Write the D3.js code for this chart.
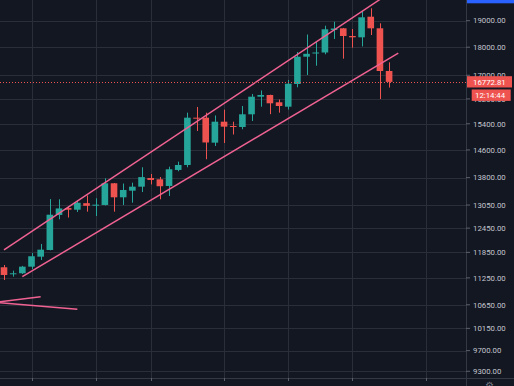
<!DOCTYPE html>
<html>
<head>
<meta charset="utf-8">
<script src="https://d3js.org/d3.v7.min.js"></script>
<style>
body{margin:0;background:#131722;}
svg{display:block;font-family:Roboto,sans-serif;}
</style>
</head>
<body>
<script>
const width = 514;
const height = 386;
const plotW = 466;
const plotH = 378;

// daily candles
const open  = [11496,11340,11356,11510,11747,11908,12789,12970,12927,13100,13044,13052,13642,13258,13438,13548,13790,13753,13567,14017,14160,15593,15593,14819,15466,15331,15300,15701,16274,16331,16090,15946,16701,17656,17779,17808,18643,18708,18417,18368,19155,18708,17149];
const high  = [11550,11417,11527,11836,12055,13210,13204,13007,13167,13307,13231,13781,13650,13635,13659,14094,13903,13818,14111,14256,15753,15937,15753,15663,15850,15466,15969,16364,16482,16340,16181,16838,17827,18473,18230,18807,18961,18720,18680,19379,19486,18900,17456];
const low   = [11202,11278,11340,11456,11668,11900,12677,12722,12867,12875,12762,13040,12875,13052,13113,13400,13610,13204,13293,13980,14094,15176,14326,14719,14808,15068,15229,15488,15946,15704,15753,15855,16589,17010,17335,17743,18305,17585,17983,18030,18454,16198,16580];
const close = [11317,11356,11510,11757,11916,12796,12960,12927,13110,13030,13060,13642,13258,13457,13548,13815,13734,13560,14037,14160,15593,15561,14825,15466,15310,15300,15701,16274,16331,16057,15969,16710,17656,17760,17808,18670,18700,18417,18368,19132,18708,17149,16772.81];

const priceTicks = [19000,18000,17000,16200,15400,14600,13800,13050,12450,11850,11250,10650,10150,9700,9300];
const timeTicks = [3,10,16,24,31,38,46];   // candle index of vertical grid lines

const lastPrice = 16772.81;
const countdown = '12:14:44';

// drawn lines, as [candle index, price]
const upperLine = [[0,11908],[41,19840]];
const lowerLine = [[2,11278],[43,17788]];
const arrowA = [[-1,10704],[4,10828]];
const arrowB = [[-1,10704],[8,10553]];

const up = '#26a69a', down = '#ef5350', grid = '#2a2e39', pink = '#f06292';

const y = d3.scaleLog().domain([9300, 19000]).range([371.3, 20.7]);
const x = d3.scaleLinear().domain([0, 42]).range([4, 389.1]);
const bw = (x(1) - x(0)) * 0.72;

const svg = d3.select('body').append('svg')
    .attr('width', width)
    .attr('height', height);

svg.append('rect').attr('width', width).attr('height', height).attr('fill', '#131722');

// grid
svg.append('g').selectAll('line')
    .data(priceTicks).enter().append('line')
        .attr('x1', 0).attr('x2', plotW)
        .attr('y1', d => Math.round(y(d)) + 0.5)
        .attr('y2', d => Math.round(y(d)) + 0.5)
        .attr('stroke', grid);

svg.append('g').selectAll('line')
    .data(timeTicks).enter().append('line')
        .attr('x1', d => Math.round(x(d)) + 0.5)
        .attr('x2', d => Math.round(x(d)) + 0.5)
        .attr('y1', 0).attr('y2', plotH)
        .attr('stroke', grid);

// candles
const candles = d3.range(open.length).map(i => ({i, o: open[i], h: high[i], l: low[i], c: close[i]}));
const cg = svg.append('g').selectAll('g')
    .data(candles).enter().append('g');

cg.append('line')
    .attr('x1', d => Math.round(x(d.i)) + 0.5)
    .attr('x2', d => Math.round(x(d.i)) + 0.5)
    .attr('y1', d => y(d.h))
    .attr('y2', d => y(d.l))
    .attr('stroke', d => d.c >= d.o ? up : down);

cg.append('rect')
    .attr('x', d => x(d.i) - bw / 2)
    .attr('width', bw)
    .attr('y', d => y(Math.max(d.o, d.c)))
    .attr('height', d => Math.max(1, Math.abs(y(d.o) - y(d.c))))
    .attr('fill', d => d.c >= d.o ? up : down);

// trend lines
const line = d3.line().x(d => x(d[0])).y(d => y(d[1]));
svg.append('defs').append('clipPath').attr('id', 'plot')
    .append('rect').attr('width', plotW).attr('height', plotH);
svg.append('g').attr('clip-path', 'url(#plot)')
    .selectAll('path')
    .data([upperLine, lowerLine, arrowA, arrowB]).enter().append('path')
        .attr('d', line)
        .attr('fill', 'none')
        .attr('stroke', pink)
        .attr('stroke-width', 1.5);

// last price line
svg.append('line')
    .attr('x1', 0).attr('x2', plotW)
    .attr('y1', Math.round(y(lastPrice)) + 0.5)
    .attr('y2', Math.round(y(lastPrice)) + 0.5)
    .attr('stroke', down)
    .attr('stroke-dasharray', '1,2');

// axis borders
svg.append('line')
    .attr('x1', plotW + 0.5).attr('x2', plotW + 0.5)
    .attr('y1', 0).attr('y2', height)
    .attr('stroke', '#333845');
svg.append('line')
    .attr('x1', 0).attr('x2', width)
    .attr('y1', plotH + 0.5).attr('y2', plotH + 0.5)
    .attr('stroke', '#333845');

// price axis
const pa = svg.append('g').selectAll('g')
    .data(priceTicks).enter().append('g')
        .attr('transform', d => `translate(0,${y(d)})`);
pa.append('line')
    .attr('x1', plotW).attr('x2', plotW + 4)
    .attr('stroke', '#5d606b');
pa.append('text')
    .attr('x', 473)
    .attr('dy', '0.35em')
    .attr('font-size', 7.8)
    .attr('fill', '#c3c6ce')
    .text(d => d3.format('.2f')(d));

// time axis ticks
svg.append('g').selectAll('line')
    .data(timeTicks).enter().append('line')
        .attr('x1', d => Math.round(x(d)) + 0.5)
        .attr('x2', d => Math.round(x(d)) + 0.5)
        .attr('y1', plotH).attr('y2', plotH + 3)
        .attr('stroke', '#5d606b');

// last price label + countdown
const ly = y(lastPrice);
svg.append('rect')
    .attr('x', plotW + 1).attr('y', ly - 5.7)
    .attr('width', 45).attr('height', 11.3)
    .attr('fill', down);
svg.append('text')
    .attr('x', 473).attr('y', ly).attr('dy', '0.35em')
    .attr('font-size', 7.8).attr('fill', '#fff')
    .text(d3.format('.2f')(lastPrice));
svg.append('rect')
    .attr('x', 471.7).attr('y', ly + 7.6)
    .attr('width', 39).attr('height', 11.4)
    .attr('fill', down);
svg.append('text')
    .attr('x', 475).attr('y', ly + 13.3).attr('dy', '0.35em')
    .attr('font-size', 7.8).attr('fill', '#fff')
    .text(countdown);

// top right button strip and bottom right icon
svg.append('rect')
    .attr('x', plotW + 1).attr('y', 0)
    .attr('width', width - plotW - 1).attr('height', 3.3)
    .attr('fill', '#2962ff');
svg.append('text')
    .attr('x', 489).attr('y', 389)
    .attr('text-anchor', 'middle')
    .attr('font-size', 10)
    .attr('fill', '#787b86')
    .text('⚙');
</script>
</body>
</html>
